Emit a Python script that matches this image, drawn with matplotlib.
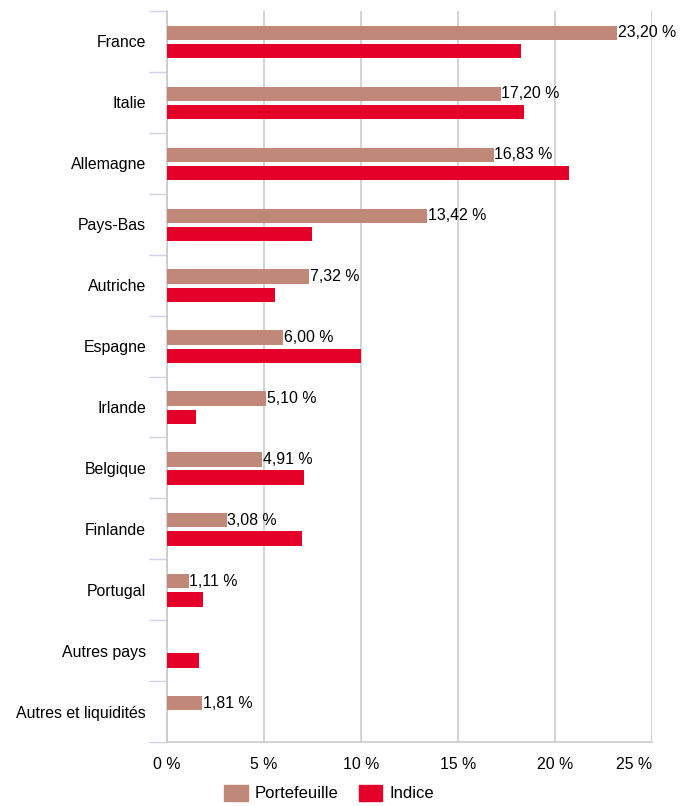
import matplotlib
matplotlib.use('Agg')
import matplotlib.pyplot as plt
import numpy as np
from matplotlib.patches import Patch

plt.rcParams['font.family'] = ['Liberation Sans', 'DejaVu Sans']

# -----------------------------
# Data
# -----------------------------
countries = ["France", "Italie", "Allemagne", "Pays-Bas", "Autriche", "Espagne",
             "Irlande", "Belgique", "Finlande", "Portugal", "Autres pays",
             "Autres et liquidités"]
portefeuille = [23.20, 17.20, 16.83, 13.42, 7.32, 6.00, 5.10, 4.91, 3.08, 1.11, 0.0, 1.81]
indice = [18.25, 18.4, 20.7, 7.45, 5.55, 10.0, 1.5, 7.05, 6.95, 1.85, 1.65, 0.0]
x_ticks = [0, 5, 10, 15, 20, 25]

color_ptf = "#BF8878"
color_idx = "#E5002A"
fs = 11.4

fig = plt.figure(figsize=(6.93, 8.06), dpi=100)
ax = fig.add_axes([167 / 693, 1 - 742 / 806, 485 / 693, 731 / 806])

y = np.arange(len(countries))
bh = 0.235
ax.barh(y - 0.14, portefeuille, height=bh, color=color_ptf, zorder=3)
ax.barh(y + 0.16, indice, height=bh, color=color_idx, zorder=3)

labels = [f"{v:.2f} %".replace(".", ",") if v > 0 else "" for v in portefeuille]
for yi, v, lab in zip(y, portefeuille, labels):
    if lab:
        ax.text(v + 0.03, yi - 0.14, lab, va="center", ha="left", fontsize=fs, zorder=4)

ax.set_ylim(len(countries) - 0.5, -0.5)
ax.set_xlim(0, 25)
ax.set_xticks(x_ticks)
ax.set_xticklabels([f"{t} %" for t in x_ticks], fontsize=fs)
ax.get_xticklabels()[-1].set_ha("right")
ax.tick_params(axis="x", length=0, pad=11)

ax.set_yticks(y)
ax.set_yticklabels(countries, fontsize=fs)
ax.tick_params(axis="y", length=0, pad=15)
# boundary ticks between categories
ax.set_yticks(np.arange(-0.5, len(countries)), minor=True)
ax.tick_params(axis="y", which="minor", length=13, color="#C9D3EA", width=1)

ax.grid(axis="x", color="#C8C8C8", linewidth=1.1, zorder=0)
for s in ["top", "right"]:
    ax.spines[s].set_visible(False)
for s in ["left", "bottom"]:
    ax.spines[s].set_color("#C8C8C8")
    ax.spines[s].set_linewidth(1.1)

handles = [Patch(color=color_ptf, label="Portefeuille"), Patch(color=color_idx, label="Indice")]
fig.legend(handles=handles, loc="lower center", bbox_to_anchor=(0.475, -0.013), ncol=2,
           frameon=False, fontsize=12, handlelength=1.4, handleheight=1.05,
           handletextpad=0.42, columnspacing=1.25)

fig.savefig("out.png", dpi=100)
